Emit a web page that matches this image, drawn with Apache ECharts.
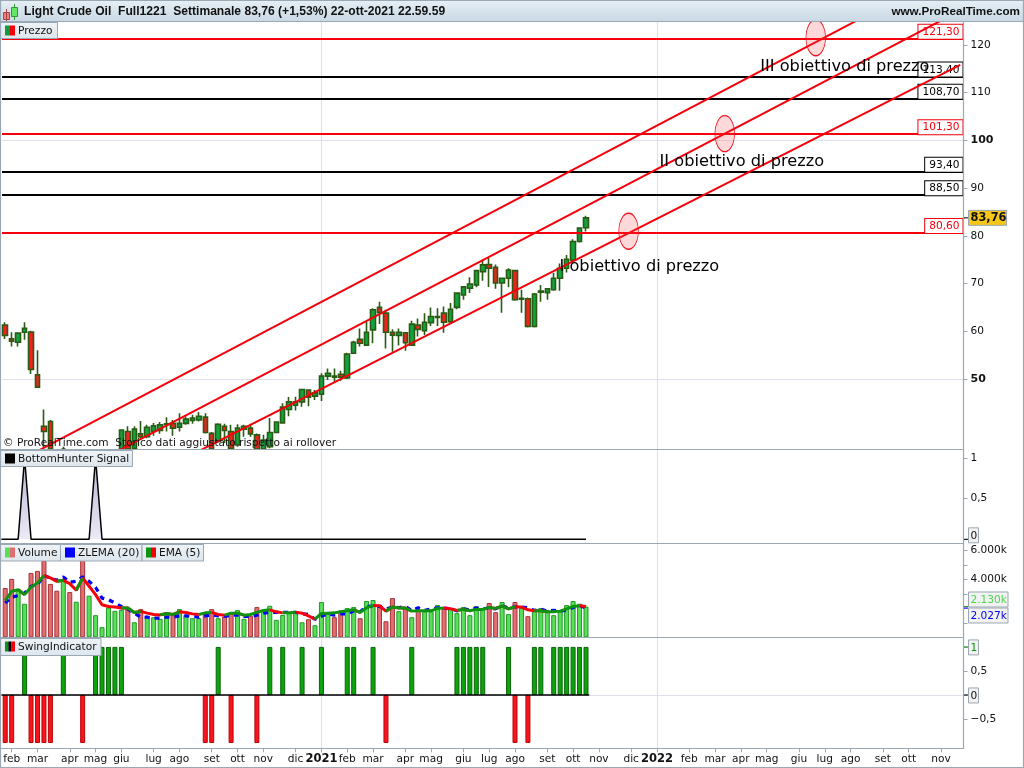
<!DOCTYPE html>
<html><head><meta charset="utf-8">
<script src="https://cdn.jsdelivr.net/npm/echarts@6/dist/echarts.min.js"></script>
<style>html,body{margin:0;padding:0;background:#fff}#c{width:1024px;height:768px}</style>
</head><body><div id="c"></div>
<script>
const titleText = 'Light Crude Oil  Full1221  Settimanale 83,76 (+1,53%) 22-ott-2021 22.59.59';
const siteText = 'www.ProRealTime.com';
const footText = '© ProRealTime.com  Storico dati aggiustato rispetto ai rollover';

const tickLabels = [[1,'feb'],[5,'mar'],[10,'apr'],[14,'mag'],[18,'giu'],[23,'lug'],[27,'ago'],[32,'set'],[36,'ott'],[40,'nov'],[45,'dic'],[49,'2021'],[53,'feb'],[57,'mar'],[62,'apr'],[66,'mag'],[71,'giu'],[75,'lug'],[79,'ago'],[84,'set'],[88,'ott'],[92,'nov'],[97,'dic'],[101,'2022'],[106,'feb'],[110,'mar'],[114,'apr'],[118,'mag'],[123,'giu'],[127,'lug'],[131,'ago'],[136,'set'],[140,'ott'],[145,'nov']];
const yearSlots = [49,101];

const candleOpen = [61.3,58.4,57.7,59.8,59.85,50.9,40.1,41.1,35,31,
 33,30,31.5,28.5,30.5,32,33,33.8,34.5,39,
 35.5,38.5,37.9,39,39.2,40.4,40.7,39.9,40.7,41.3,
 41.4,42,38.6,36.9,40.1,39,36.2,39.5,39.7,38.3,
 35.3,35.8,38.8,40.8,43.6,44.5,45.2,47.7,46.4,46.8,
 50.6,50.6,51,50.2,55.4,58.3,57.1,60.3,65,63.8,
 59.8,59.1,59.7,57.1,61.3,60.1,61.8,62.9,63.8,62,
 65,67.6,69,69.7,72.5,74,73.4,70.1,71.1,72.7,
 66.7,66.8,61,68.2,68.1,68.7,71.1,73.2,74.9,78.8,81.7];
const candleClose = [59.1,57.9,59.6,60.6,52,48.3,39,35.3,31,33,
 30,31.5,28.5,30.5,32,33,33.8,34.5,39.3,35,
 39.5,37.9,39.9,40.2,40.4,40.6,39.7,40.7,41.6,41.8,
 42.2,38.8,35.3,40.5,39.2,35.5,39.7,40.1,38.5,35.3,
 37.2,38.8,41,44.1,45.2,45.2,47.8,46.2,47.1,50.6,
 51.2,50.4,50.4,55.2,57.7,57.5,59.8,64.5,63.9,59.8,
 59.2,59.8,57.6,61.5,60.4,61.9,63.1,63.1,61.9,64.6,
 68,69.3,69.9,72.7,73.9,73.2,70.1,71.1,72.8,66.6,
 66.9,61,67.8,68.4,68.9,71.1,73.2,75.1,78.8,81.6,83.76];
const candleLow = [58.4,56.8,56.8,58.2,51.05,48.3,35.7,34.5,28,29,
 27,28,27,28,29,30.5,32,32.5,34,34.5,
 34,37.6,37.6,38.1,38.5,39,38.1,39,40.4,40.6,
 41.1,38.6,35,36.6,36.6,34.5,35.8,37.9,37.9,34.5,
 34.5,35.5,38.7,40.8,42.2,43.4,44.2,44.3,45.6,45.4,
 49.8,49.4,49.6,50,55.3,56.8,57,57.5,61.5,56.4,
 55.7,57,55.9,57,58.9,59.2,61.1,61.1,59.7,61.7,
 64.6,66.6,68,69.2,70.6,69.3,68.9,63.9,69.2,66.4,
 63.9,60.8,60.8,66.2,66.6,68.5,68.5,72.3,74.8,78.6,80.9];
const candleHigh = [61.9,59.8,59.8,61.9,60.1,56,43.6,41.4,35,35.8,
 34.5,33.5,33,32,33.5,34,34.5,35,39.3,40.1,
 40.1,41.2,40.4,40.8,41,42,41.4,42.8,42.2,42.5,
 43.1,42.8,38.9,40.7,40.6,40.4,40.5,40.4,40.6,38.6,
 38.3,41.8,41.1,44.9,46.2,46.3,47.9,47.7,47.7,51.2,
 52.2,52.2,51.7,55.5,58,60.6,62,64.8,66.2,64.5,
 60.4,60.6,59.7,62.2,62.7,63.8,65,64.8,65.2,65.9,
 68,69.5,71.3,72.8,75,75.5,74,71.1,73.2,72.7,
 68.7,67.1,68,69.7,69,72.2,74.2,76,79.3,81.8,84.2];

const redLevels = [121.3,101.3,80.6];
const blackLevels = [113.4,108.7,93.4,88.5];
const priceGridLines = [50,100];
const priceTicks = [50,60,70,80,90,100,110,120];
const priceBold = [50,100];
const lastPrice = 83.76;

const channelTop = [[4.6,34.6],[148,136.5]];
const channelMid = [[17,34.6],[148,127.2]];
const channelLow = [[30,34.9],[148,115.8]];
const targets = [[96.6,80.96],[111.5,101.4],[125.6,121.5]];
const targetNotes = [[85.9,73.5,'I obiettivo di prezzo'],[101.4,95.5,'II obiettivo di prezzo'],[117,115.4,'III obiettivo di prezzo']];

const hunter = [0,0,0,1,0,0,0,0,0,0, 0,0,0,0,1,0,0,0,0,0, 0,0,0,0,0,0,0,0,0,0, 0,0,0,0,0,0,0,0,0,0, 0,0,0,0,0,0,0,0,0,0, 0,0,0,0,0,0,0,0,0,0, 0,0,0,0,0,0,0,0,0,0, 0,0,0,0,0,0,0,0,0,0, 0,0,0,0,0,0,0,0,0,0, 0];

const volume = [3410,4040,3340,2320,4450,4590,5290,3690,3220,3990,
 3130,2460,5340,2880,1530,700,2060,1830,1900,2020,
 1040,1950,1480,1390,1280,1720,1530,1950,1550,1320,
 1320,1720,1950,1320,1440,1720,1880,1280,1480,2090,
 1900,2180,1210,1550,1670,1790,1040,1250,835,2440,
 1620,1390,1860,2020,2090,1320,2510,2580,2250,1110,
 2710,1810,2020,1390,1900,1790,1790,2230,1970,2020,
 1670,2090,1530,2160,1950,2370,1740,2440,1600,2440,
 2020,1460,1900,2020,1860,1530,1790,2230,2510,2320,2130];
const volumeDownWeeks = [0,1,4,5,6,7,8,10,12,19,21,26,31,32,34,35,38,39,47,51,52,55,58,59,60,62,64,68,75,76,79,81];
const ema5 = [2530,3180,3290,2950,3480,3760,4270,4110,3870,3940,
 3710,3250,4110,3530,2950,2250,2130,2090,2020,2020,
 1720,1790,1670,1580,1550,1650,1580,1760,1720,1620,
 1580,1690,1720,1580,1530,1670,1670,1530,1580,1720,
 1860,1900,1760,1690,1690,1740,1670,1480,1250,1650,
 1670,1690,1760,1830,1900,1720,2040,2200,2180,1810,
 2090,2020,2020,1810,1830,1830,1830,2000,2020,1970,
 1860,1930,1830,1930,1930,2060,2000,2160,1970,2110,
 2090,1900,1830,1830,1760,1760,1810,1970,2130,2180,2130];
const zlema20 = [2370,2780,2880,3060,3530,3640,4270,4110,3940,4180,
 3800,3870,4180,3870,3460,2710,2600,2370,2130,1950,
 1670,1390,1390,1320,1320,1390,1390,1480,1480,1440,
 1390,1480,1550,1480,1440,1530,1530,1440,1440,1530,
 1670,1720,1720,1720,1720,1720,1620,1580,1250,1460,
 1620,1530,1620,1620,1810,1760,2130,2160,2130,1950,
 2090,2060,2130,1860,2040,1860,1950,2040,2020,1970,
 1830,1950,1900,2020,1970,2020,1970,2180,2020,2110,
 2090,2040,1860,1950,1810,1860,1830,1860,2060,2200,2027];
const volumeTicks = [1000,2000,3000,4000,5000,6000];
const volumeLabels = [4000,6000];

const swing = [-1,-1,0,1,-1,-1,-1,-1,0,1,
 0,0,-1,0,1,1,1,1,1,0,
 0,0,0,0,0,0,0,0,0,0,
 0,-1,-1,1,0,-1,0,0,0,-1,
 0,1,0,1,0,0,1,0,0,1,
 0,0,0,1,1,0,0,1,0,-1,
 0,0,0,1,0,0,0,0,0,0,
 1,1,1,1,1,0,0,0,1,-1,
 0,-1,1,1,0,1,1,1,1,1,1];

const FONT = '"DejaVu Sans"';
const AX = '#9aa8b4', GL = '#dfe1ea';
const SLOTS = 149, PRICE_MIN = 35.33;
const labelAt = {}; tickLabels.forEach(t => labelAt[t[0]] = t[1]);
const slotNames = Array.from({length:SLOTS}, (_, i) => 'w' + i);
const comma = v => String(v).replace('.', ',');
const thousands = v => (v/1000).toFixed(3) + 'k';
const clampP = v => Math.max(v, PRICE_MIN);

const grids = [
 {left:2,width:961.5,top:22,height:427},
 {left:2,width:961.5,top:449.3,height:94},
 {left:2,width:961.5,top:543.3,height:94},
 {left:2,width:961.5,top:637.3,height:111}
].map(g => Object.assign(g,{show:false}));

const catAxes = grids.map((g,i) => ({
 type:'category',gridIndex:i,data:slotNames,boundaryGap:true,
 axisLine:{show:false,onZero:false},splitLine:{show:false},
 axisTick:{show:i===3,length:4,alignWithLabel:true,interval:k=>labelAt[k]!==undefined,lineStyle:{color:AX}},
 axisLabel:{show:i===3,interval:k=>labelAt[k]!==undefined,margin:5,color:'#111',fontFamily:FONT,fontSize:10.6,
  formatter:(v,k)=>{const s=labelAt[k]; return s&&s.length===4?'{y|'+s+'}':(s||'');},
  rich:{y:{fontFamily:FONT,fontWeight:'bold',fontSize:11.5,color:'#111'}}}
}));
const valAxes = grids.map((g,i) => ({type:'value',gridIndex:i,min:-0.5,max:SLOTS-0.5,show:false,axisLine:{onZero:false}}));
const yBase = {position:'right',scale:false,splitLine:{show:false},axisLine:{show:false,onZero:false}};
const yLabel = {margin:7,color:'#111',fontFamily:FONT,fontSize:10.6};
const yAxes = [
 Object.assign({},yBase,{type:'value',gridIndex:0,min:PRICE_MIN,max:124.8,
  axisTick:{show:true,length:4,lineStyle:{color:AX},customValues:priceTicks},
  axisLabel:Object.assign({},yLabel,{customValues:priceTicks,
   formatter:v=>priceBold.includes(v)?'{b|'+v+'}':String(v),rich:{b:{fontFamily:FONT,fontWeight:'bold',fontSize:11,color:'#111'}}})}),
 Object.assign({},yBase,{type:'value',gridIndex:1,min:-0.049,max:1.107,
  axisTick:{show:true,length:4,lineStyle:{color:AX},customValues:[0,0.5,1]},
  axisLabel:Object.assign({},yLabel,{customValues:[0.5,1],formatter:comma})}),
 Object.assign({},yBase,{type:'value',gridIndex:2,min:0,max:6500,
  axisTick:{show:true,length:4,lineStyle:{color:AX},customValues:volumeTicks},
  axisLabel:Object.assign({},yLabel,{customValues:volumeLabels,formatter:thousands})}),
 Object.assign({},yBase,{type:'value',gridIndex:3,min:-1.11,max:1.2,
  axisTick:{show:true,length:4,lineStyle:{color:AX},customValues:[-0.5,0,0.5,1]},
  axisLabel:Object.assign({},yLabel,{customValues:[-0.5,0.5],formatter:v=>(v<0?'\u2212':'')+comma(Math.abs(v))})})
];

const gridMark = data => ({silent:true,z:1,symbol:'none',animation:false,label:{show:false},lineStyle:{color:GL,width:1.2,type:'solid'},data});
const yearLines = gi => ({type:'line',xAxisIndex:4+gi,yAxisIndex:gi,data:[],silent:true,z:1,
 markLine:gridMark(yearSlots.map(s=>({xAxis:s})))});

const levelLine = (v,color) => ({yAxis:v,lineStyle:{color,width:2,type:'solid'},
 label:{show:true,position:'insideEndTop',distance:[1,0],formatter:v.toFixed(2).replace('.',','),
  color,fontFamily:FONT,fontSize:10.6,backgroundColor:'#fff',borderColor:color,borderWidth:1,padding:[2,3,1,4]}});

const chan = d => ({type:'line',xAxisIndex:4,yAxisIndex:0,data:d,showSymbol:false,silent:true,z:6,clip:true,
 lineStyle:{color:'#f5000a',width:2}});

const series = [
 yearLines(0),yearLines(1),yearLines(2),yearLines(3),
 {type:'line',xAxisIndex:4,yAxisIndex:0,data:[],silent:true,z:2,markLine:gridMark(priceGridLines.map(v=>({yAxis:v})))},
 {type:'candlestick',xAxisIndex:0,yAxisIndex:0,barWidth:5,z:4,
  data:candleOpen.map((o,i)=>candleHigh[i]<=PRICE_MIN?[null,null,null,null]:[clampP(o),clampP(candleClose[i]),clampP(candleLow[i]),candleHigh[i]]),
  itemStyle:{color:'#12a33f',color0:'#f2201e',borderColor:'#2a5b12',borderColor0:'#2a5b12',borderWidth:1.6}},
 chan(channelTop),chan(channelMid),chan(channelLow),
 {type:'line',xAxisIndex:4,yAxisIndex:0,data:[],silent:true,z:5,
  markLine:{silent:true,symbol:'none',animation:false,z:5,
   data:redLevels.map(v=>levelLine(v,'#f5000a')).concat(blackLevels.map(v=>levelLine(v,'#000')))}},
 {type:'scatter',xAxisIndex:4,yAxisIndex:0,data:targets,symbol:'circle',symbolSize:[19.5,36],silent:true,z:7,
  itemStyle:{opacity:1,color:'rgba(255,60,70,0.2)',borderColor:'#ee1520',borderWidth:1}},
 {type:'scatter',xAxisIndex:4,yAxisIndex:0,data:targetNotes,symbolSize:0,silent:true,z:8,clip:false,
  itemStyle:{opacity:1},
  label:{show:true,position:'right',distance:0,formatter:p=>p.value[2],color:'#000',fontFamily:FONT,fontSize:16.2}},

 {type:'line',xAxisIndex:5,yAxisIndex:1,data:[[-0.6,0]].concat(hunter.map((v,i)=>[i,v])),showSymbol:false,z:3,
  lineStyle:{color:'#000',width:1.5},
  areaStyle:{opacity:1,color:{type:'linear',x:0,y:0,x2:0,y2:1,colorStops:[{offset:0,color:'#b4b5d6'},{offset:1,color:'#eceaf4'}]}}},

 {type:'bar',xAxisIndex:2,yAxisIndex:2,barWidth:5,z:3,
  data:volume.map((v,i)=>{const d=volumeDownWeeks.includes(i);
   return {value:v,itemStyle:{color:d?'#e26f70':'#5ade5a',borderColor:d?'#a5343a':'#1f9a24',borderWidth:1}};})},
 {type:'line',xAxisIndex:2,yAxisIndex:2,data:zlema20,showSymbol:false,z:4,lineStyle:{color:'#0000ff',width:3.2,type:[5,5]}},
 {type:'line',xAxisIndex:2,yAxisIndex:2,showSymbol:false,z:5,connectNulls:false,lineStyle:{color:'#f5000a',width:3},
  data:ema5.map((v,i)=>((i>0&&ema5[i]<ema5[i-1])||(i<ema5.length-1&&ema5[i+1]<ema5[i]))?v:null)},
 {type:'line',xAxisIndex:2,yAxisIndex:2,showSymbol:false,z:5,connectNulls:false,lineStyle:{color:'#0c9410',width:3},
  data:ema5.map((v,i)=>((i>0&&ema5[i]>=ema5[i-1])||(i<ema5.length-1&&ema5[i+1]>=ema5[i]))?v:null)},

 {type:'line',xAxisIndex:7,yAxisIndex:3,data:[],silent:true,z:2,markLine:gridMark([{yAxis:0}])},
 {type:'bar',xAxisIndex:3,yAxisIndex:3,barWidth:5,z:3,
  data:swing.map(v=>v===0?null:{value:v,itemStyle:{color:v>0?'#0da30d':'#f8141a',borderColor:v>0?'#0a650a':'#b5080c',borderWidth:1}})},
 {type:'line',xAxisIndex:7,yAxisIndex:3,data:[[-0.6,0],[swing.length-0.5,0]],showSymbol:false,z:4,silent:true,lineStyle:{color:'#000',width:1.5}}
];

const chart = echarts.init(document.getElementById('c'),null,{renderer:'canvas'});
chart.setOption({animation:false,backgroundColor:'#fff',grid:grids,xAxis:catAxes.concat(valAxes),yAxis:yAxes,series,tooltip:{show:false}});

/* chrome: title bar, panel frame, legend tabs, value badges */
const g = [];
const text = (x,y,t,o={}) => g.push({type:'text',z:100,silent:true,style:Object.assign({x,y,text:t,fill:'#111',font:'10.6px '+FONT,textVerticalAlign:'middle'},o)});
const rect = (x,y,w,h,fill,stroke) => g.push({type:'rect',z:99,silent:true,shape:{x,y,width:w,height:h},style:{fill:fill||'none',stroke:stroke||'none',lineWidth:1}});
const ln = (x1,y1,x2,y2,c,w,z) => g.push({type:'line',z:z||98,silent:true,shape:{x1,y1,x2,y2},style:{stroke:c,lineWidth:w||1}});
const tabFill = {type:'linear',x:0,y:0,x2:0,y2:1,colorStops:[{offset:0,color:'#eef3f7'},{offset:1,color:'#dde6ed'}]};
rect(0,0,1024,21,{type:'linear',x:0,y:0,x2:0,y2:1,colorStops:[{offset:0,color:'#e6eff5'},{offset:1,color:'#c9d9e4'}]});
ln(0,21.5,1024,21.5,AX);
[449.5,543.5,637.5,748.5].forEach(y=>ln(0,y,964,y,AX,1.2));
ln(963.5,22,963.5,749,AX,1.2);
rect(3.5,12.5,6,7,'#ef8080','#a84040');
ln(6.5,9,6.5,21,'#a84040',1,99);
ln(14.5,4,14.5,20,'#2f9a2f',1,99);
rect(11.5,7.5,6,9,'#66e666','#2f9a2f');
text(24,12,titleText,{font:'bold 12.1px "Liberation Sans"',fill:'#111'});
text(1020,12,siteText,{font:'bold 11.7px "Liberation Sans"',fill:'#111',textAlign:'right'});
const s0 = sw => sw[sw.length-1][0]+sw[sw.length-1][1]+3;
const tab = (x,y,w,h,label,sw) => { rect(x+0.5,y+0.5,w,h,tabFill,AX); sw.forEach(s=>rect(s[0],y+3.5,s[1],10,s[2])); text(s0(sw),y+h/2+1,label); };
tab(0,22,57,16,'Prezzo',[[5,5,'#129a3f'],[10,5,'#f5000a']]);
tab(0,450,132,16,'BottomHunter Signal',[[5,10,'#000']]);
tab(0,544,60,16.5,'Volume',[[5,5,'#5ade5a'],[10,5,'#e26f70']]);
tab(60,544,81.5,16.5,'ZLEMA (20)',[[65,10,'#0000ff']]);
tab(141.5,544,61.5,16.5,'EMA (5)',[[146,5,'#0c9410'],[151,5,'#f5000a']]);
tab(0,638,100.5,17,'SwingIndicator',[[5,3.3,'#0c9410'],[8.3,3.3,'#000'],[11.6,3.4,'#f5000a']]);
text(3,443,footText,{font:'10.6px '+FONT,fill:'#111'});
const py = (a,v) => chart.convertToPixel({yAxisIndex:a},v);
const badge = (a,v,dy,w,label,col,bg,tick,font) => {
 const y = py(a,v);
 ln(964,y,968,y,tick,1,99);
 rect(968.5,y-7.5+dy,w,15,bg,AX);
 text(970.5,y+dy+0.5,label,{fill:col,font:font||('10.6px '+FONT)});
};
badge(0,lastPrice,0,38,comma(lastPrice),'#111','#f7c61a','#000','bold 11.4px '+FONT);
badge(1,0,-4,10,'0','#111','#f2f2f2','#000');
badge(2,2130,-7,39.5,'2.130k','#4fd64f','#f2f2f2','#2a9a2a');
badge(2,2027,7.5,39.5,'2.027k','#0000ff','#f2f2f2','#0000ff');
badge(3,1,0.5,10,'1','#0c9410','#f2f2f2','#0c9410');
badge(3,0,0.5,10,'0','#111','#f2f2f2','#000');
g.push({type:'rect',z:101,silent:true,shape:{x:0.5,y:0.5,width:1023,height:767},style:{fill:'none',stroke:AX,lineWidth:1.2}});
chart.setOption({graphic:{elements:g}});
</script></body></html>
